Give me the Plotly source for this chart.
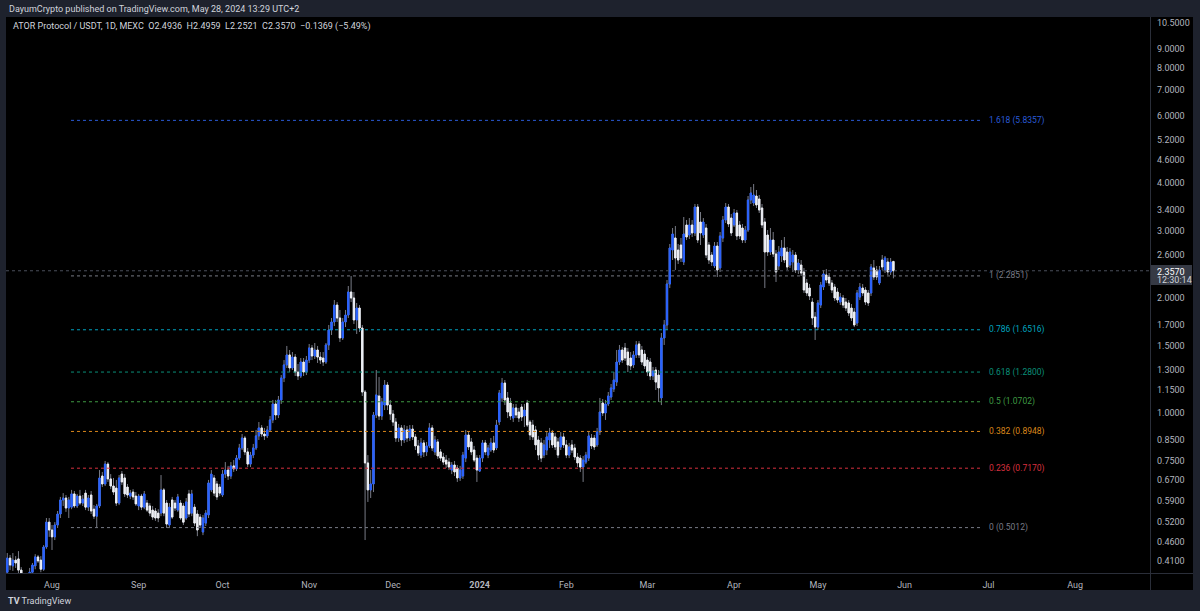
import math
import pandas as pd
import plotly.graph_objects as go

# ---------------- data ----------------
start_date = "2023-07-16"
n_days = 318
dates = pd.date_range(start_date, periods=n_days, freq="D")

open_ = [
    .383, .417, .398, .412, .415, .388, .372, .361, .368, .383,
    .398, .420, .412, .390, .446, .518, .494, .474, .509, .544,
    .592, .599, .564, .567, .614, .571, .606, .581, .617, .567,
    .610, .560, .537, .571, .684, .652, .735, .672, .644, .636,
    .581, .692, .676, .640, .606, .621, .606, .571, .606, .567,
    .581, .571, .557, .554, .547, .547, .629, .581, .509, .592,
    .581, .557, .581, .571, .531, .614, .547, .567, .544, .534,
    .488, .515, .541, .629, .676, .652, .640, .610, .692, .709,
    .684, .727, .714, .762, .810, .860, .791, .735, .776, .810,
    .871, .914, .881, .871, .903, .959, 1.056, .988, 1.082, 1.235,
    1.336, 1.419, 1.312, 1.401, 1.280, 1.250, 1.360, 1.280, 1.376, 1.480,
    1.410, 1.462, 1.401, 1.393, 1.360, 1.507, 1.649, 1.731, 1.917, 1.773,
    1.572, 1.731, 1.805, 2.074, 2.000, 1.752, 1.883, 1.669, 1.135, .740,
    .629, .652, .988, 1.108, .982, 1.049, 1.184, 1.049, .994, .947,
    .860, .914, .850, .903, .860, .908, .866, .820, .776, .835,
    .791, .820, .914, .791, .840, .791, .767, .753, .744, .709,
    .731, .718, .676, .684, .762, .876, .840, .800, .762, .705,
    .762, .835, .776, .800, .835, .810, .947, 1.095, 1.198, 1.095,
    1.062, .970, 1.031, 1.006, 1.037, .982, 1.062, .947, .930, .903,
    .850, .835, .776, .800, .850, .887, .866, .840, .815, .866,
    .825, .776, .825, .810, .767, .762, .722, .744, .762, .860,
    .860, .825, .892, 1.062, 1.000, 1.056, 1.101, 1.156, 1.205, 1.360,
    1.462, 1.480, 1.444, 1.393, 1.336, 1.419, 1.516, 1.462, 1.427, 1.376,
    1.360, 1.250, 1.296, 1.257, 1.095, 1.572, 1.700, 2.176, 2.671, 2.872,
    2.671, 2.753, 2.485, 3.106, 2.924, 3.106, 2.960, 3.462, 3.162, 2.924,
    3.050, 2.753, 2.592, 2.426, 2.736, 2.397, 2.872, 3.201, 3.462, 3.239,
    3.106, 3.339, 3.106, 3.050, 2.837, 3.013, 3.611, 3.546, 3.699, 3.633,
    3.441, 3.162, 2.924, 2.639, 2.837, 2.608, 2.426, 2.576, 2.704, 2.639,
    2.440, 2.485, 2.592, 2.368, 2.440, 2.340, 2.189, 2.124, 1.952, 1.784,
    1.679, 1.917, 2.137, 2.298, 2.270, 2.189, 2.137, 2.074, 1.952, 2.000,
    1.952, 1.941, 1.883, 1.838, 1.720, 2.012, 2.124, 2.099, 2.061, 2.061,
    2.397, 2.368, 2.189, 2.515, 2.368, 2.485, 2.340, 2.4936,
]

high = [
    .430, .425, .430, .422, .435, .395, .381, .377, .393, .405,
    .427, .425, .422, .451, .531, .531, .509, .518, .554, .603,
    .617, .610, .603, .629, .625, .614, .629, .610, .629, .610,
    .625, .574, .578, .709, .701, .749, .744, .692, .676, .668,
    .688, .705, .692, .652, .629, .632, .621, .614, .614, .625,
    .592, .581, .571, .564, .560, .688, .636, .592, .581, .603,
    .592, .614, .592, .581, .599, .629, .629, .578, .557, .544,
    .541, .557, .668, .709, .688, .664, .652, .709, .744, .727,
    .744, .753, .776, .830, .881, .871, .810, .791, .830, .903,
    .947, .930, .914, .925, .982, 1.082, 1.082, 1.108, 1.257, 1.376,
    1.498, 1.462, 1.444, 1.427, 1.344, 1.393, 1.393, 1.410, 1.516, 1.507,
    1.525, 1.498, 1.444, 1.444, 1.525, 1.700, 1.773, 1.976, 1.952, 1.861,
    1.773, 1.861, 2.150, 2.284, 2.074, 1.941, 1.917, 1.700, 1.149, .776,
    .709, 1.006, 1.296, 1.242, 1.095, 1.220, 1.205, 1.082, 1.018, .970,
    .936, .930, .930, .925, .930, .930, .881, .850, .860, .850,
    .840, .941, .930, .871, .855, .805, .786, .776, .762, .744,
    .749, .731, .727, .791, .903, .892, .860, .820, .776, .776,
    .850, .850, .825, .860, .871, .959, 1.149, 1.235, 1.220, 1.135,
    1.095, 1.056, 1.056, 1.031, 1.056, 1.056, 1.082, .959, .959, .925,
    .871, .860, .850, .892, .914, .903, .887, .860, .892, .887,
    .850, .835, .850, .830, .786, .776, .772, .791, .892, .881,
    .876, .914, 1.095, 1.088, 1.082, 1.135, 1.191, 1.280, 1.462, 1.507,
    1.489, 1.525, 1.480, 1.444, 1.453, 1.543, 1.543, 1.498, 1.462, 1.401,
    1.393, 1.320, 1.320, 1.296, 1.620, 1.752, 2.229, 2.770, 3.050, 3.087,
    2.770, 2.872, 3.259, 3.201, 3.239, 3.201, 3.525, 3.525, 3.359, 3.239,
    3.124, 2.803, 2.639, 2.803, 2.803, 2.977, 3.279, 3.546, 3.525, 3.319,
    3.420, 3.400, 3.181, 3.124, 3.087, 3.699, 3.905, 3.976, 3.835, 3.721,
    3.525, 3.239, 3.013, 3.050, 2.977, 2.671, 2.736, 2.837, 2.889, 2.720,
    2.704, 2.671, 2.639, 2.530, 2.515, 2.397, 2.243, 2.176, 2.000, 1.838,
    1.976, 2.203, 2.368, 2.382, 2.325, 2.229, 2.176, 2.124, 2.061, 2.037,
    2.000, 1.976, 1.929, 1.883, 2.099, 2.189, 2.176, 2.137, 2.099, 2.455,
    2.515, 2.426, 2.426, 2.592, 2.576, 2.545, 2.545, 2.4959,
]

low = [
    .377, .388, .386, .393, .381, .361, .348, .348, .361, .377,
    .390, .405, .383, .386, .441, .474, .438, .465, .500, .531,
    .571, .551, .531, .560, .564, .564, .574, .571, .557, .554,
    .544, .528, .503, .564, .640, .644, .660, .632, .610, .571,
    .574, .648, .603, .599, .595, .592, .571, .557, .557, .560,
    .551, .537, .525, .522, .518, .537, .537, .500, .503, .528,
    .554, .551, .525, .509, .525, .534, .537, .506, .476, .500,
    .479, .506, .531, .621, .606, .592, .606, .603, .676, .668,
    .672, .701, .705, .753, .800, .776, .722, .722, .762, .800,
    .850, .866, .850, .860, .892, .941, .959, .970, 1.056, 1.205,
    1.312, 1.280, 1.296, 1.250, 1.220, 1.235, 1.250, 1.257, 1.352, 1.376,
    1.385, 1.352, 1.344, 1.328, 1.344, 1.462, 1.600, 1.689, 1.731, 1.534,
    1.553, 1.679, 1.773, 1.952, 1.710, 1.610, 1.630, 1.108, .465, .585,
    .599, .621, .970, .959, .959, 1.018, 1.018, .959, .925, .840,
    .840, .820, .835, .840, .845, .850, .800, .772, .762, .767,
    .772, .810, .795, .776, .758, .749, .731, .718, .709, .692,
    .684, .660, .664, .672, .744, .800, .776, .744, .660, .701,
    .744, .776, .762, .791, .786, .800, .930, 1.069, 1.049, .970,
    .959, .947, .970, .947, .953, .919, .919, .850, .850, .800,
    .753, .744, .762, .776, .810, .810, .800, .762, .800, .810,
    .762, .762, .786, .753, .722, .701, .660, .735, .749, .805,
    .800, .815, .876, .982, .959, 1.043, 1.082, 1.135, 1.177, 1.336,
    1.352, 1.368, 1.280, 1.296, 1.312, 1.393, 1.393, 1.336, 1.304, 1.250,
    1.220, 1.220, 1.149, 1.069, 1.049, 1.507, 1.649, 2.124, 2.515, 2.368,
    2.455, 2.485, 2.440, 2.837, 2.854, 2.889, 2.906, 2.786, 2.753, 2.872,
    2.545, 2.455, 2.426, 2.397, 2.270, 2.340, 2.803, 3.143, 3.068, 2.906,
    3.068, 2.837, 2.854, 2.786, 2.786, 2.977, 3.525, 3.483, 3.441, 3.339,
    3.050, 2.124, 2.576, 2.592, 2.561, 2.203, 2.368, 2.485, 2.470, 2.368,
    2.397, 2.340, 2.325, 2.312, 2.284, 2.061, 2.024, 1.976, 1.700, 1.553,
    1.649, 1.883, 2.099, 2.189, 2.150, 2.061, 1.964, 1.941, 1.917, 1.883,
    1.849, 1.794, 1.741, 1.679, 1.689, 1.976, 2.024, 1.917, 1.906, 2.024,
    2.229, 2.229, 2.163, 2.368, 2.325, 2.298, 2.298, 2.2521,
]

close = [
    .417, .400, .412, .405, .388, .372, .361, .368, .383, .400,
    .420, .410, .390, .446, .518, .494, .474, .509, .544, .592,
    .599, .564, .592, .614, .571, .606, .581, .595, .567, .599,
    .554, .537, .571, .676, .652, .735, .672, .644, .621, .581,
    .676, .660, .614, .610, .617, .603, .578, .606, .567, .614,
    .557, .547, .534, .531, .531, .629, .547, .512, .567, .534,
    .564, .603, .531, .518, .585, .544, .614, .515, .494, .509,
    .531, .547, .656, .692, .617, .603, .617, .692, .709, .684,
    .727, .714, .762, .810, .860, .791, .735, .776, .810, .871,
    .914, .881, .871, .903, .959, 1.056, .988, 1.082, 1.235, 1.336,
    1.419, 1.312, 1.401, 1.280, 1.250, 1.360, 1.280, 1.376, 1.480, 1.410,
    1.462, 1.401, 1.376, 1.360, 1.507, 1.649, 1.731, 1.917, 1.773, 1.572,
    1.731, 1.805, 2.074, 2.000, 1.752, 1.883, 1.669, 1.135, .740, .629,
    .652, .988, 1.115, .982, 1.069, 1.184, 1.049, .994, .947, .860,
    .914, .850, .903, .860, .908, .866, .820, .786, .835, .791,
    .820, .914, .810, .850, .772, .762, .744, .735, .722, .731,
    .701, .676, .709, .776, .876, .815, .791, .753, .709, .762,
    .835, .791, .810, .835, .800, .930, 1.128, 1.198, 1.082, 1.006,
    .982, 1.031, .988, .970, .976, 1.018, .930, .876, .866, .825,
    .776, .762, .825, .866, .887, .825, .815, .776, .866, .825,
    .776, .815, .800, .767, .740, .722, .753, .776, .871, .820,
    .815, .892, 1.006, 1.000, 1.056, 1.108, 1.163, 1.220, 1.360, 1.462,
    1.376, 1.393, 1.336, 1.328, 1.419, 1.507, 1.419, 1.360, 1.328, 1.280,
    1.250, 1.288, 1.205, 1.163, 1.572, 1.700, 2.176, 2.704, 2.942, 2.545,
    2.515, 2.545, 2.942, 2.889, 3.106, 2.960, 3.462, 2.837, 2.960, 3.162,
    2.592, 2.515, 2.485, 2.736, 2.368, 2.906, 3.201, 3.462, 3.124, 2.960,
    3.339, 2.906, 2.906, 2.837, 3.013, 3.611, 3.766, 3.721, 3.504, 3.400,
    3.106, 2.639, 2.639, 2.837, 2.608, 2.340, 2.639, 2.704, 2.515, 2.411,
    2.639, 2.592, 2.368, 2.470, 2.325, 2.099, 2.061, 2.024, 1.773, 1.679,
    1.941, 2.163, 2.312, 2.229, 2.189, 2.099, 2.000, 1.976, 2.012, 1.917,
    1.883, 1.827, 1.773, 1.700, 2.061, 2.137, 2.061, 1.952, 1.941, 2.411,
    2.270, 2.270, 2.368, 2.411, 2.545, 2.340, 2.485, 2.3570,
]

assert len(open_) == len(high) == len(low) == len(close) == n_days

fib_levels = ["0", "0.236", "0.382", "0.5", "0.618", "0.786", "1", "1.618"]
fib_prices = [0.5012, 0.7170, 0.8948, 1.0702, 1.2800, 1.6516, 2.2851, 5.8357]
fib_colors = ["#787b86", "#d8303f", "#d9861a", "#3f9a43", "#0a8f78",
              "#00a3bf", "#787b86", "#2a5bd7"]
fib_start = "2023-08-07 19:00"
fib_end = "2024-06-28 17:00"

last_price = 2.3570
countdown = "12:30:14"

price_ticks = [0.41, 0.46, 0.52, 0.59, 0.67, 0.75, 0.85, 1.0, 1.15, 1.3, 1.5,
               1.7, 2.0, 2.6, 3.0, 3.4, 4.0, 4.6, 5.2, 6.0, 7.0, 8.0, 9.0, 10.5]
month_ticks = ["2023-08-01", "2023-09-01", "2023-10-01", "2023-11-01",
               "2023-12-01", "2024-01-01", "2024-02-01", "2024-03-01",
               "2024-04-01", "2024-05-01", "2024-06-01", "2024-07-01",
               "2024-08-01"]
month_labels = ["Aug", "Sep", "Oct", "Nov", "Dec", "<b>2024</b>", "Feb", "Mar",
                "Apr", "May", "Jun", "Jul", "Aug"]

x_range = ["2023-07-15 13:00", "2024-08-27 19:00"]
y_range = [0.38122, 10.881]

header = "DayumCrypto published on TradingView.com, May 28, 2024 13:29 UTC+2"
legend = ("ATOR Protocol / USDT, 1D, MEXC\u00a0\u00a0O2.4936\u00a0\u00a0H2.4959"
          "\u00a0\u00a0L2.2521\u00a0\u00a0C2.3570\u00a0\u00a0\u22120.1369 (\u22125.49%)")

# ---------------- styling / layout ----------------
W, H = 1200, 611
PL, PR, PT, PB = 6, 1150, 17, 573
FRAME = "#1e222d"
FONT = "Roboto"
UP = "#2962ff"
DOWN = "#eef0f5"
WICK = "#787b86"


def px(X):
    return (X - PL) / (PR - PL)


def py(Y):
    return (PB - Y) / (PB - PT)


body_hi = [max(o, c) for o, c in zip(open_, close)]
body_lo = [min(o, c) for o, c in zip(open_, close)]

fig = go.Figure()

# wicks
fig.add_trace(go.Candlestick(
    x=dates, open=open_, high=high, low=low, close=close,
    increasing=dict(line=dict(color=WICK, width=1), fillcolor=WICK),
    decreasing=dict(line=dict(color=WICK, width=1), fillcolor=WICK),
    hoverinfo="skip", showlegend=False,
))
# bodies
fig.add_trace(go.Candlestick(
    x=dates, open=open_, high=body_hi, low=body_lo, close=close,
    increasing=dict(line=dict(color=UP, width=1), fillcolor=UP),
    decreasing=dict(line=dict(color=DOWN, width=1), fillcolor=DOWN),
    hoverinfo="skip", showlegend=False,
))

# current price line
fig.add_trace(go.Scatter(
    x=x_range, y=[last_price, last_price], mode="lines",
    line=dict(color="#4a4e5a", width=1, dash="dot"),
    hoverinfo="skip", showlegend=False,
))

annotations = []
# fib lines + labels
for lvl, p, col in zip(fib_levels, fib_prices, fib_colors):
    fig.add_trace(go.Scatter(
        x=[fib_start, fib_end], y=[p, p], mode="lines",
        line=dict(color=col, width=1, dash="dot"),
        hoverinfo="skip", showlegend=False,
    ))
    annotations.append(dict(
        x=px(987), xref="paper", y=math.log10(p), yref="y",
        text=f"{lvl} ({p:.4f})", showarrow=False, xanchor="left",
        yanchor="middle", font=dict(family=FONT, size=8.5, color=col),
    ))

annotations += [
    dict(x=px(7), y=py(9.5), xref="paper", yref="paper", text=header,
         showarrow=False, xanchor="left", yanchor="middle",
         font=dict(family=FONT, size=9, color="#d1d4dc")),
    dict(x=px(11), y=py(26), xref="paper", yref="paper", text=legend,
         showarrow=False, xanchor="left", yanchor="middle",
         font=dict(family=FONT, size=9, color="#d1d4dc")),
    dict(x=px(6), y=py(601), xref="paper", yref="paper",
         text="<b>TV</b> TradingView", showarrow=False, xanchor="left",
         yanchor="middle", font=dict(family=FONT, size=9, color="#d1d4dc")),
    dict(x=px(1155), y=py(271.5), xref="paper", yref="paper",
         text=f"{last_price:.4f}", showarrow=False, xanchor="left",
         yanchor="middle", font=dict(family=FONT, size=9, color="#ffffff")),
    dict(x=px(1155), y=py(280), xref="paper", yref="paper", text=countdown,
         showarrow=False, xanchor="left", yanchor="middle",
         font=dict(family=FONT, size=9, color="#d1d4dc")),
]

shapes = [
    # black chart pane incl. axis areas
    dict(type="rect", xref="paper", yref="paper", x0=px(6), x1=px(1193),
         y0=py(590), y1=py(17), fillcolor="#000000", line=dict(width=0),
         layer="below"),
    # separators
    dict(type="line", xref="paper", yref="paper", x0=px(1150.5), x1=px(1150.5),
         y0=py(590), y1=py(17), line=dict(color="#2a2e39", width=1)),
    dict(type="line", xref="paper", yref="paper", x0=px(6), x1=px(1193),
         y0=py(573.5), y1=py(573.5), line=dict(color="#2a2e39", width=1)),
    # last price label box
    dict(type="rect", xref="paper", yref="paper", x0=px(1151), x1=px(1192),
         y0=py(285), y1=py(265), fillcolor="#363a45", line=dict(width=0)),
]

fig.update_layout(
    width=W, height=H,
    margin=dict(l=PL, r=W - PR, t=PT, b=H - PB, pad=0),
    paper_bgcolor=FRAME, plot_bgcolor="#000000",
    showlegend=False, hovermode=False,
    annotations=annotations, shapes=shapes,
    font=dict(family=FONT, color="#b2b5be"),
    xaxis=dict(
        type="date", range=x_range, rangeslider=dict(visible=False),
        showgrid=False, zeroline=False, showline=False, ticks="",
        tickmode="array", tickvals=month_ticks, ticktext=month_labels,
        tickfont=dict(family=FONT, size=9, color="#b2b5be"),
        ticklabelstandoff=5, fixedrange=True,
    ),
    yaxis=dict(
        type="log", side="right",
        range=[math.log10(y_range[0]), math.log10(y_range[1])],
        showgrid=False, zeroline=False, showline=False, ticks="",
        tickmode="array", tickvals=price_ticks,
        ticktext=[f"{v:.4f}" for v in price_ticks],
        tickfont=dict(family=FONT, size=9, color="#b2b5be"),
        ticklabelstandoff=6, fixedrange=True,
    ),
)

fig.write_html("out.html", include_plotlyjs=True,
               config={"displayModeBar": False},
               post_script="document.body.style.margin='0px';")
